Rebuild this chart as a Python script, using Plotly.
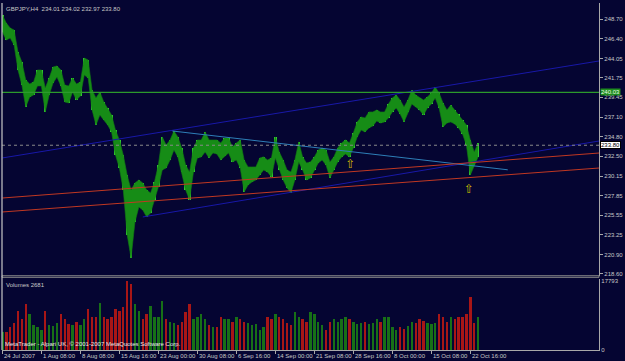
import plotly.graph_objects as go

# ---------------- data (one sample = 3 H4 bars) ----------------
sample_idx = list(range(123))

price_high = [
    249.18, 248.23, 247.64, 247.41, 244.81, 243.63, 241.50, 241.03, 241.27, 242.69,
    242.69, 240.56, 241.74, 243.04, 243.16, 242.69, 240.91, 240.80, 241.74, 241.03,
    241.27, 244.10, 243.87, 240.32, 239.38, 240.09, 238.91, 238.20, 237.37, 235.60,
    234.42, 232.65, 230.29, 228.52, 229.35, 229.70, 229.35, 228.52, 228.17, 229.47,
    231.47, 234.78, 233.83, 234.42, 235.48, 234.78, 233.48, 231.47, 230.64, 233.48,
    234.42, 234.42, 235.37, 234.42, 234.42, 234.42, 234.07, 234.66, 234.66, 233.60,
    234.07, 234.42, 232.06, 231.24, 231.24, 231.24, 232.30, 232.42, 232.06, 232.30,
    234.78, 233.01, 232.06, 230.88, 230.64, 232.06, 234.19, 232.42, 231.71, 231.83,
    232.42, 233.24, 233.48, 233.24, 231.83, 232.42, 233.48, 234.07, 234.42, 234.07,
    235.25, 236.55, 237.14, 237.02, 237.73, 237.73, 237.96, 237.73, 237.73, 238.67,
    239.38, 239.73, 239.14, 238.32, 239.14, 240.32, 239.73, 239.38, 239.14, 239.50,
    239.97, 240.68, 239.97, 238.79, 237.96, 238.55, 237.96, 237.49, 236.78, 236.19,
    234.42, 233.01, 234.02,
]
price_low = [
    247.17, 246.23, 246.46, 245.64, 242.69, 240.91, 238.32, 239.50, 239.73, 240.80,
    240.80, 237.73, 239.73, 241.15, 241.86, 240.80, 238.91, 238.79, 240.09, 239.14,
    239.62, 242.10, 241.74, 237.96, 236.19, 237.37, 236.78, 236.19, 235.37, 232.65,
    231.12, 228.52, 223.21, 220.49, 224.74, 226.51, 226.16, 225.33, 225.80, 227.34,
    228.87, 230.88, 231.12, 232.06, 233.24, 232.42, 230.64, 228.52, 227.34, 230.64,
    232.30, 232.42, 233.01, 232.30, 232.89, 232.77, 232.06, 232.53, 232.89, 231.83,
    232.06, 231.12, 228.29, 229.11, 229.47, 229.70, 230.29, 230.88, 230.64, 230.06,
    232.30, 230.88, 229.70, 228.76, 228.17, 229.70, 231.83, 230.88, 229.70, 229.94,
    230.88, 231.71, 232.06, 231.47, 229.94, 230.88, 231.83, 232.42, 232.77, 232.42,
    233.48, 234.78, 235.60, 235.37, 235.84, 236.08, 236.67, 236.43, 236.55, 237.02,
    237.73, 238.20, 237.49, 236.55, 237.73, 238.67, 238.32, 237.96, 237.37, 238.20,
    238.67, 239.38, 238.20, 235.96, 236.43, 236.55, 236.31, 235.84, 235.13, 233.83,
    230.29, 231.47, 232.42,
]
volumes = [
    4700, 4700, 5800, 7000, 10000, 7900, 11800, 9200, 6500, 5800,
    5200, 10000, 6500, 6300, 7000, 9200, 7900, 6800, 6500, 7300,
    6500, 7900, 10500, 8600, 8400, 12000, 8600, 7900, 8400, 10500,
    10000, 11000, 17793, 17000, 11800, 10000, 7900, 9200, 11300, 8600,
    8400, 12600, 7900, 7300, 7000, 6500, 7300, 9700, 11800, 7900,
    8400, 9200, 7900, 6500, 5800, 5800, 8600, 7900, 7900, 7300,
    8400, 7900, 7300, 7000, 6500, 6800, 5200, 5800, 8600, 7900,
    9200, 8600, 7900, 7000, 6500, 9700, 8600, 7900, 7300, 9700,
    9200, 7300, 6500, 5200, 7300, 7900, 7300, 7900, 8400, 7900,
    7300, 6800, 7000, 7300, 6800, 7000, 7900, 7300, 8400, 8600,
    5800, 5200, 5800, 5500, 6300, 7300, 7000, 7900, 7600, 7000,
    6800, 7000, 9400, 8400, 7300, 8600, 7900, 8600, 8400, 9400,
    13600, 7000, 8600,
]

price_ticks = [248.70, 246.40, 244.05, 241.75, 239.45, 237.10, 234.80,
               232.50, 230.15, 227.85, 225.55, 223.25, 220.90, 218.60]
volume_ticks = [17793, 0]
volume_tick_labels = ["17793", "0"]

time_tick_idx = [0, 10, 20, 30, 40, 50, 60, 70, 80, 90, 100, 110, 120]
time_tick_labels = ["24 Jul 2007", "1 Aug 08:00", "8 Aug 08:00", "15 Aug 16:00",
                    "23 Aug 00:00", "30 Aug 08:00", "6 Sep 16:00", "14 Sep 00:00",
                    "21 Sep 08:00", "28 Sep 16:00", "8 Oct 00:00", "15 Oct 08:00",
                    "22 Oct 16:00"]

title_text = "GBPJPY,H4  234.01 234.02 232.97 233.80"
volume_title = "Volumes 2681"
footer_text = "MetaTrader - Alpari UK, \u00a9 2001-2007 MetaQuotes Software Corp."

hline_price = 240.03
bid_price = 233.80

# trend lines: (x0, y0, x1, y1, colour)
trend_x0 = [0.0, 36.0, 43.6, 0.0, 0.0]
trend_y0 = [232.30, 225.33, 235.48, 227.57, 225.92]
trend_x1 = [153.0, 153.0, 129.6, 153.0, 153.0]
trend_y1 = [243.75, 234.30, 230.90, 232.88, 231.11]
trend_colors = ["#1818A8", "#1818A8", "#2E7FB8", "#C03822", "#C03822"]

arrow_idx = [89.3, 119.7]
arrow_price = [231.47, 228.52]

# ---------------- styling ----------------
BG = "#050532"
AXIS = "#A8A8A8"
TXT = "#C8C8C8"
FONT = "Liberation Sans"
FS = 6.0

fig = go.Figure()

# price band: green body between low and high, bright bar strokes on top
fig.add_trace(go.Scatter(x=sample_idx, y=price_low, mode="lines",
                         line=dict(color="#127C12", width=0.6),
                         xaxis="x", yaxis="y", hoverinfo="skip", showlegend=False))
fig.add_trace(go.Scatter(x=sample_idx, y=price_high, mode="lines",
                         line=dict(color="#127C12", width=0.6),
                         fill="tonexty", fillcolor="#168C16",
                         xaxis="x", yaxis="y", hoverinfo="skip", showlegend=False))
rng = [p - q for p, q in zip(price_high, price_low)]
fig.add_trace(go.Bar(x=sample_idx, y=rng, base=price_low, width=0.6,
                     marker=dict(color="#34CC34", line=dict(width=0)),
                     xaxis="x", yaxis="y", hoverinfo="skip", showlegend=False))

mid = [(h + l) / 2 for h, l in zip(price_high, price_low)]
vcol = []
for i, m in enumerate(mid):
    up = i == 0 or m >= mid[i - 1]
    vcol.append("#177017" if up else "#A81616")
fig.add_trace(go.Bar(x=sample_idx, y=volumes, width=0.62,
                     marker=dict(color=vcol, line=dict(width=0)),
                     xaxis="x", yaxis="y2", hoverinfo="skip", showlegend=False))

for x0, y0, x1, y1, c in zip(trend_x0, trend_y0, trend_x1, trend_y1, trend_colors):
    fig.add_trace(go.Scatter(x=[x0, x1], y=[y0, y1], mode="lines",
                             line=dict(color=c, width=1), xaxis="x", yaxis="y",
                             hoverinfo="skip", showlegend=False))

fig.add_trace(go.Scatter(x=arrow_idx, y=arrow_price, mode="text",
                         text=["\u21e7"] * len(arrow_idx),
                         textfont=dict(family="DejaVu Sans", size=12, color="#CDBB00"),
                         xaxis="x", yaxis="y", hoverinfo="skip", showlegend=False))

shapes = [
    dict(type="line", xref="paper", x0=0, x1=1, yref="y", y0=hline_price, y1=hline_price,
         line=dict(color="#2C9A2C", width=1.2)),
    dict(type="line", xref="paper", x0=0, x1=1, yref="y", y0=bid_price, y1=bid_price,
         line=dict(color="#8A8A8A", width=1, dash="dot")),
    dict(type="rect", xref="paper", x0=0, x1=1, yref="paper", y0=0.2095, y1=0.2140,
         line=dict(color="#8A8A8A", width=1), fillcolor=BG),
    dict(type="line", xref="paper", x0=0, x1=0, yref="paper", y0=0, y1=1,
         line=dict(color="#C8C8C8", width=1.2)),
]

annotations = [
    dict(text=title_text, xref="paper", yref="paper", x=0, y=1, xanchor="left",
         yanchor="top", xshift=2, yshift=-1, showarrow=False,
         font=dict(family=FONT, size=FS, color=TXT)),
    dict(text=volume_title, xref="paper", yref="paper", x=0, y=0.2046, xanchor="left",
         yanchor="top", xshift=2, yshift=-1, showarrow=False,
         font=dict(family=FONT, size=FS, color=TXT)),
    dict(text=footer_text, xref="paper", yref="paper", x=0, y=0, xanchor="left",
         yanchor="bottom", xshift=1, yshift=1, showarrow=False,
         font=dict(family=FONT, size=FS, color="#E8E8E8")),
    dict(text=f"{hline_price:.2f}", xref="paper", yref="y", x=1, y=hline_price,
         xanchor="left", yanchor="middle", xshift=1, showarrow=False,
         bgcolor="#1E8C1E", borderpad=0,
         font=dict(family=FONT, size=FS, color="#E8FFE8")),
    dict(text=f"{bid_price:.2f}", xref="paper", yref="y", x=1, y=bid_price,
         xanchor="left", yanchor="middle", xshift=1, showarrow=False,
         bgcolor="#FFFFFF", bordercolor="#000000", borderwidth=1, borderpad=0,
         font=dict(family=FONT, size=FS, color="#000000")),
]
for tx, lab in zip(time_tick_idx, time_tick_labels):
    annotations.append(dict(text=lab, xref="x", yref="paper", x=tx, y=0,
                            xanchor="left", yanchor="top", xshift=0, yshift=-1,
                            showarrow=False,
                            font=dict(family=FONT, size=FS, color=TXT)))

fig.update_layout(
    width=625, height=361,
    margin=dict(l=2, r=23, t=3, b=11),
    paper_bgcolor=BG, plot_bgcolor=BG,
    barmode="overlay", bargap=0,
    showlegend=False,
    shapes=shapes, annotations=annotations,
    xaxis=dict(domain=[0, 1], range=[-0.1, 153.0], anchor="y2",
               showgrid=False, zeroline=False, showline=True, linecolor=AXIS,
               linewidth=1.2, tickvals=time_tick_idx, showticklabels=False,
               ticks="outside", ticklen=3, tickcolor=AXIS),
    yaxis=dict(domain=[0.2133, 1], range=[218.363, 250.594], side="right",
               anchor="x", showgrid=False, zeroline=False, showline=True,
               linecolor=AXIS, linewidth=1.2, tickvals=price_ticks,
               ticktext=[f"{v:.2f}" for v in price_ticks],
               ticks="outside", ticklen=3, tickcolor=AXIS,
               tickfont=dict(family=FONT, size=FS, color=TXT)),
    yaxis2=dict(domain=[0, 0.2046], range=[0, 18300], side="right",
                anchor="x", showgrid=False, zeroline=False, showline=True,
                linecolor=AXIS, linewidth=1.2, tickvals=volume_ticks,
                ticktext=volume_tick_labels, ticks="", ticklen=0,
                tickfont=dict(family=FONT, size=FS, color=TXT)),
)

fig.write_html("out.html", config=dict(displayModeBar=False))
